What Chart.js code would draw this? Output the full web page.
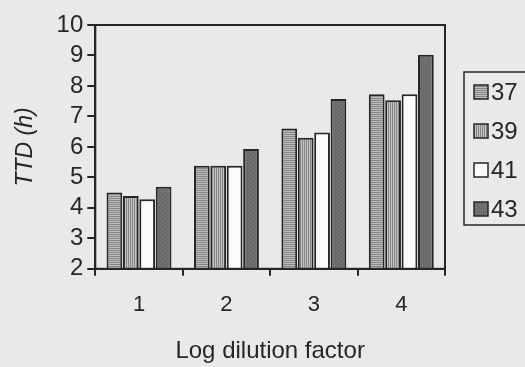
<!DOCTYPE html>
<html>
<head>
<meta charset="utf-8">
<script src="https://cdn.jsdelivr.net/npm/chart.js@4"></script>
<style>
  html, body { margin: 0; padding: 0; background: #e9e9e7; }
  #wrap { width: 525px; height: 367px; }
</style>
</head>
<body>
<div id="wrap"><canvas id="c" width="525" height="367"></canvas></div>
<script>
// values
const categories = ['1', '2', '3', '4'];
const seriesLabels = ['37', '39', '41', '43'];
const ttd37 = [4.5, 5.38, 6.6, 7.73];
const ttd39 = [4.39, 5.38, 6.3, 7.53];
const ttd41 = [4.28, 5.38, 6.47, 7.73];
const ttd43 = [4.69, 5.93, 7.57, 9.02];
const yTicks = [2, 3, 4, 5, 6, 7, 8, 9, 10];

const INK = '#262626';
const FONT = 'Liberation Sans, Arial, sans-serif';

function makePattern(kind) {
    const p = document.createElement('canvas');
    p.width = 4; p.height = 4;
    const g = p.getContext('2d');
    if (kind === 'h') {
        g.fillStyle = '#bdbdbd'; g.fillRect(0, 0, 4, 4);
        g.fillStyle = '#858585'; g.fillRect(0, 0, 4, 1); g.fillRect(0, 2, 4, 1);
    } else if (kind === 'v') {
        g.fillStyle = '#c2c2c2'; g.fillRect(0, 0, 4, 4);
        g.fillStyle = '#878787'; g.fillRect(0, 0, 1, 4); g.fillRect(2, 0, 1, 4);
    } else if (kind === 'd') {
        g.fillStyle = '#6e6e6e'; g.fillRect(0, 0, 4, 4);
        g.fillStyle = '#5e5e5e'; g.fillRect(1, 0, 1, 1); g.fillRect(3, 2, 1, 1);
        g.fillStyle = '#7c7c7c'; g.fillRect(0, 3, 1, 1); g.fillRect(2, 1, 1, 1);
    } else {
        g.fillStyle = '#fbfbfb'; g.fillRect(0, 0, 4, 4);
    }
    return g.createPattern(p, 'repeat');
}

const fills = [makePattern('h'), makePattern('v'), makePattern('w'), makePattern('d')];
const values = [ttd37, ttd39, ttd41, ttd43];

const datasets = values.map((data, i) => ({
    label: seriesLabels[i],
    data,
    backgroundColor: fills[i],
    borderColor: INK,
    borderWidth: 2,
    borderSkipped: 'bottom',
    categoryPercentage: 0.75,
    barPercentage: 0.96
}));

// frame round the plot area and the boxed legend on the right
const framePlugin = {
    id: 'frame',
    afterDraw(chart) {
        const { ctx, chartArea: a } = chart;
        ctx.save();
        ctx.strokeStyle = INK;
        ctx.lineWidth = 2;
        ctx.strokeRect(a.left, a.top, a.right - a.left, a.bottom - a.top);

        const lx = 464, ly = 72, lw = 70, lh = 153;
        ctx.lineWidth = 1.5;
        ctx.strokeRect(lx, ly, lw, lh);
        ctx.font = '24px ' + FONT;
        ctx.textBaseline = 'middle';
        chart.data.datasets.forEach((ds, i) => {
            const y = ly + 20 + i * 39;
            ctx.fillStyle = ds.backgroundColor;
            ctx.fillRect(lx + 10, y - 7, 14, 14);
            ctx.strokeStyle = INK;
            ctx.lineWidth = 1.5;
            ctx.strokeRect(lx + 10, y - 7, 14, 14);
            ctx.fillStyle = INK;
            ctx.fillText(ds.label, lx + 27, y + 1);
        });
        ctx.restore();
    }
};

new Chart(document.getElementById('c'), {
    type: 'bar',
    data: { labels: categories, datasets },
    options: {
        responsive: false,
        animation: false,
        layout: { padding: { top: 25, right: 80, left: 9, bottom: -3 } },
        plugins: { legend: { display: false }, tooltip: { enabled: false } },
        scales: {
            x: {
                offset: true,
                grid: { offset: true, drawOnChartArea: false, drawTicks: true, tickLength: 7, color: INK, lineWidth: 2 },
                border: { color: INK, width: 2 },
                ticks: { color: INK, font: { family: FONT, size: 22 }, padding: 16 },
                title: { display: true, text: 'Log dilution factor', color: INK, font: { family: FONT, size: 24 }, padding: { top: 3 } }
            },
            y: {
                min: yTicks[0],
                max: yTicks[yTicks.length - 1],
                afterBuildTicks: axis => { axis.ticks = yTicks.map(v => ({ value: v })); },
                grid: { drawOnChartArea: false, drawTicks: true, tickLength: 8, color: INK, lineWidth: 2 },
                border: { color: INK, width: 2 },
                ticks: { color: INK, font: { family: FONT, size: 24 }, padding: 4, autoSkip: false },
                title: { display: true, text: 'TTD (h)', color: INK, font: { family: FONT, size: 23, style: 'italic' }, padding: { top: 3, bottom: 13 } }
            }
        }
    },
    plugins: [framePlugin]
});
</script>
</body>
</html>
